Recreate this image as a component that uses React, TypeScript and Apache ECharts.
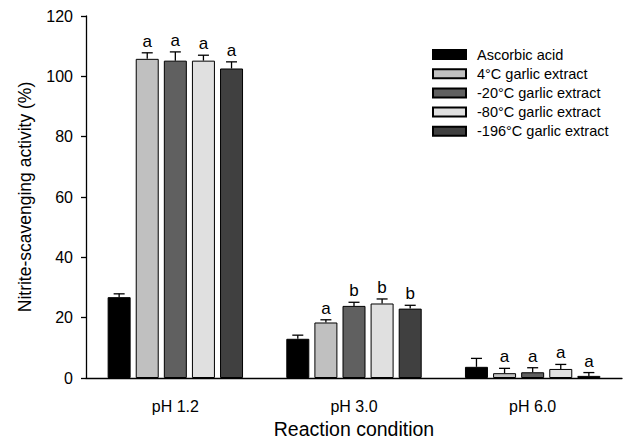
import React, { useEffect, useRef } from "react";
import * as echarts from "echarts";

const categories = ["pH 1.2", "pH 3.0", "pH 6.0"];
const seriesNames = [
  "Ascorbic acid",
  "4°C garlic extract",
  "-20°C garlic extract",
  "-80°C garlic extract",
  "-196°C garlic extract",
];
const colors = ["#000000", "#c0c0c0", "#606060", "#e0e0e0", "#404040"];

const ascorbic = [26.8, 13.0, 3.7];
const garlic4 = [105.8, 18.4, 1.6];
const garlic20 = [105.2, 23.9, 1.9];
const garlic80 = [105.2, 24.7, 3.0];
const garlic196 = [102.6, 23.0, 0.7];

const ascorbicErr = [1.1, 1.2, 2.8];
const garlic4Err = [2.0, 0.9, 1.6];
const garlic20Err = [2.9, 1.2, 1.5];
const garlic80Err = [1.8, 1.5, 1.5];
const garlic196Err = [2.2, 1.1, 1.1];

const ascorbicLetters = ["", "", ""];
const garlic4Letters = ["a", "a", "a"];
const garlic20Letters = ["a", "b", "a"];
const garlic80Letters = ["a", "b", "a"];
const garlic196Letters = ["a", "b", "a"];

const yTicks = [0, 20, 40, 60, 80, 100, 120];

const values = [ascorbic, garlic4, garlic20, garlic80, garlic196];
const errs = [ascorbicErr, garlic4Err, garlic20Err, garlic80Err, garlic196Err];
const letters = [ascorbicLetters, garlic4Letters, garlic20Letters, garlic80Letters, garlic196Letters];

const FONT = "'Liberation Sans', Arial, sans-serif";
const BAR_W = 23;
const BAR_GAP_PX = 5.1;

export default function App() {
  const ref = useRef<HTMLDivElement>(null);
  useEffect(() => {
    document.body.style.margin = "0";
    if (!ref.current) return;
    const chart = echarts.init(ref.current, null, { renderer: "svg" });
    const n = seriesNames.length;
    const barSeries = seriesNames.map((name, i) => ({
      name,
      type: "bar",
      data: values[i],
      barWidth: BAR_W,
      barGap: (BAR_GAP_PX / BAR_W) * 100 + "%",
      itemStyle: { color: colors[i], borderColor: "#000", borderWidth: 1 },
      z: 2,
    }));
    const errSeries = seriesNames.map((name, i) => ({
      name: name + " err",
      type: "custom",
      z: 3,
      data: categories.map((_, c) => [c, values[i][c], errs[i][c]]),
      renderItem: (params: any, api: any) => {
        const c = api.value(0);
        const v = api.value(1);
        const e = api.value(2);
        const letter = letters[i][c];
        const offset = (i - (n - 1) / 2) * (BAR_W + BAR_GAP_PX);
        const base = api.coord([c, v]);
        const top = api.coord([c, v + e]);
        const x = base[0] + offset;
        const children: any[] = [
          {
            type: "line",
            shape: { x1: x, y1: base[1], x2: x, y2: top[1] },
            style: { stroke: "#000", lineWidth: 1.3 },
          },
          {
            type: "line",
            shape: { x1: x - 5.5, y1: top[1], x2: x + 5.5, y2: top[1] },
            style: { stroke: "#000", lineWidth: 1.3 },
          },
        ];
        if (letter) {
          children.push({
            type: "text",
            x: x,
            y: top[1] - 3,
            style: {
              text: letter,
              fill: "#000",
              font: "17px " + FONT,
              align: "center",
              verticalAlign: "bottom",
            },
          });
        }
        return { type: "group", children };
      },
    }));

    chart.setOption({
      animation: false,
      backgroundColor: "#ffffff",
      grid: { left: 86, right: 4, top: 16, bottom: 62 },
      legend: {
        data: seriesNames,
        orient: "vertical",
        left: 432,
        top: 47,
        padding: 0,
        itemWidth: 33,
        itemHeight: 9,
        itemGap: 4.2,
        icon: "rect",
        textStyle: {
          fontSize: 14.5,
          lineHeight: 14,
          color: "#000",
          fontFamily: FONT,
          padding: [0, 0, 0, 6],
        },
      },
      xAxis: {
        type: "category",
        data: categories,
        name: "Reaction condition",
        nameLocation: "middle",
        nameGap: 41,
        nameTextStyle: { fontSize: 19.5, color: "#000", fontFamily: FONT },
        axisLine: { lineStyle: { color: "#000", width: 1.3 } },
        axisTick: { show: false },
        axisLabel: { fontSize: 16, color: "#000", fontFamily: FONT, margin: 20 },
      },
      yAxis: {
        type: "value",
        min: 0,
        max: 120,
        interval: 20,
        name: "Nitrite-scavenging activity (%)",
        nameLocation: "middle",
        nameRotate: 90,
        nameGap: 52,
        nameTextStyle: { fontSize: 17.5, color: "#000", fontFamily: FONT },
        splitLine: { show: false },
        axisLine: { show: true, lineStyle: { color: "#000", width: 1.3 } },
        axisTick: { show: true, length: 5, lineStyle: { color: "#000", width: 1.3 } },
        axisLabel: {
          fontSize: 16,
          color: "#000",
          fontFamily: FONT,
          margin: 13,
          formatter: (v: number) => (yTicks.includes(v) ? String(v) : ""),
        },
      },
      series: [...barSeries, ...errSeries],
    });
    return () => chart.dispose();
  }, []);
  return <div ref={ref} style={{ width: 626, height: 444 }} />;
}
